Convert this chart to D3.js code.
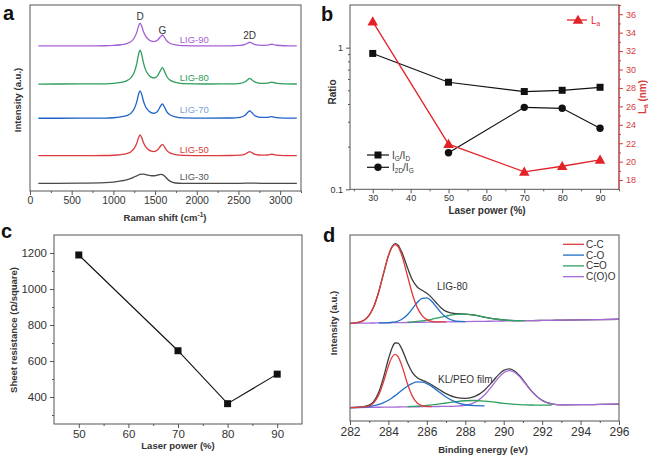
<!DOCTYPE html>
<html><head><meta charset="utf-8">
<script src="https://cdn.jsdelivr.net/npm/d3@7"></script>
<style>body{margin:0;background:#fff}svg{display:block}text{font-family:"Liberation Sans",Arial,sans-serif}</style>
</head><body><svg id="fig" width="650" height="459"></svg>
<script>
// ---------- Panel a: Raman spectra ----------
const ramanShift = [100,600,900,1000,1090,1158,1212,1252,1280,1300,1320,1340,1360,1388,1425,1458,1485,1508,1535,1562,1588,1613,1642,1678,1745,1830,2100,2400,2520,2580,2610,2635,2660,2700,2780,2850,2900,2950,3050,3200];
const lig30 = [0,0.1,0.4,0.7,1.3,1.9,2.7,3.5,4.0,4.5,4.8,5.0,5.0,4.7,4.3,4.1,4.1,4.2,4.5,4.8,4.7,3.9,2.6,1.2,0.2,0.05,0.05,0.03,0.05,0.08,0.1,0.1,0.1,0.08,0.05,0.03,0.03,0.02,0.01,0];
const lig50 = [0,0.03,0.09,0.22,0.58,1.09,2.14,4.04,6.65,9.46,11.11,9.67,7.06,4.69,3.11,2.38,2.22,2.45,3.34,4.92,6.08,4.71,2.70,1.48,0.58,0.18,0.03,0.08,0.29,0.85,1.61,2.12,1.62,0.71,0.26,0.36,0.76,0.32,0.07,0.03];
const lig70 = [0,0.04,0.12,0.29,0.75,1.41,2.78,5.30,8.80,12.57,14.78,12.81,9.28,6.05,3.90,2.91,2.69,2.99,4.17,6.24,7.77,6.00,3.43,1.86,0.74,0.23,0.05,0.15,0.54,1.61,3.07,4.02,3.08,1.33,0.43,0.48,0.91,0.39,0.10,0.04];
const lig80 = [0,0.05,0.14,0.36,0.92,1.74,3.44,6.56,10.89,15.55,18.29,15.85,11.48,7.49,4.83,3.59,3.29,3.57,4.84,7.11,8.78,6.80,3.92,2.15,0.85,0.26,0.04,0.11,0.41,1.22,2.31,3.02,2.32,1.01,0.36,0.52,1.08,0.45,0.11,0.04];
const lig90 = [0,0.03,0.09,0.24,0.62,1.18,2.33,4.41,7.28,10.37,12.18,10.60,7.72,5.10,3.36,2.55,2.34,2.52,3.33,4.79,5.86,4.55,2.64,1.46,0.58,0.18,0.03,0.07,0.27,0.79,1.51,1.97,1.51,0.66,0.26,0.41,0.91,0.37,0.08,0.03];
const ramanNames = ["LIG-30","LIG-50","LIG-70","LIG-80","LIG-90"];
const ramanOffsets = [4.1,19.0,39.1,57.5,78.0];
const ramanTicks = [0,500,1000,1500,2000,2500,3000];
const bandNames = ["D","G","2D"];
const bandPos = [1320,1588,2635];

// ---------- Panel b: ratios and La ----------
const laserPower = [30,50,70,80,90];
const ratioGD = [0.91,0.57,0.49,0.50,0.525];
const ratio2DG = [null,0.181,0.379,0.373,0.27];
const crystalLa = [35.2,21.9,18.9,19.5,20.2];
const bTicksX = [30,40,50,60,70,80,90];
const bTicksLog = [0.1,1];
const bTicksLa = [18,20,22,24,26,28,30,32,34,36];

// ---------- Panel c: sheet resistance ----------
const sheetPower = [50,70,80,90];
const sheetRes = [1189,657,363,527];
const cTicksX = [50,60,70,80,90];
const cTicksY = [400,600,800,1000,1200];

// ---------- Panel d: XPS C1s ----------
const bindingEnergy = [282,282.5,283,283.25,283.5,283.75,284,284.2,284.35,284.5,284.7,285,285.25,285.5,285.75,286,286.25,286.5,286.75,287,287.5,288,288.5,289,289.5,289.75,290,290.3,290.6,290.85,291.1,291.5,292,292.5,293,294,295,296];
const _ = null;
const ligEnv = [52.54,53.14,56.91,61.85,69.64,79.49,88.9,93.89,95.34,94.57,90.72,82.15,75.78,72.06,70.26,68.68,66.35,63.44,60.75,58.92,57.69,57.5,56.87,55.86,54.92,54.57,54.31,54.11,54.01,53.98,53.98,53.99,54.07,54.15,54.23,54.38,54.54,54.7];
const ligCC = [52.54,53.14,56.91,61.85,69.64,79.47,88.81,93.65,94.87,93.69,88.92,77.67,68.11,60.95,56.65,54.49,53.61,53.33,53.28,53.29,_,_,_,_,_,_,_,_,_,_,_,_,_,_,_,_,_,_];
const ligCO = [_,_,_,_,52.74,52.79,52.9,53.09,53.34,53.77,54.72,57.29,60.4,63.7,65.98,66.24,64.39,61.28,58.12,55.77,53.74,53.47,_,_,_,_,_,_,_,_,_,_,_,_,_,_,_,_];
const ligCdO = [_,_,_,_,_,_,_,_,_,_,_,53.13,53.29,53.51,53.81,54.21,54.69,55.25,55.85,56.44,57.31,57.47,56.87,55.86,54.92,54.57,54.31,54.11,54.01,53.98,53.98,_,_,_,_,_,_,_];
const ligCOO = [52.5,52.58,52.66,52.7,52.74,52.77,52.81,52.85,52.87,52.89,52.92,52.97,53.01,53.05,53.09,53.13,53.17,53.21,53.25,53.29,53.36,53.44,53.52,53.6,53.68,53.72,53.76,53.8,53.85,53.89,53.93,53.99,54.07,54.15,54.23,54.38,54.54,54.7];
const klEnv = [7.22,7.41,8.53,10.73,15.55,23.63,33.33,39.57,41.94,41.9,38.64,31.06,26.02,23.29,21.94,20.84,19.5,17.88,16.21,14.71,12.68,12.13,13.21,16.59,22.21,25.07,27.18,28.0,26.61,24.04,20.74,15.53,11.09,9.25,8.75,8.76,8.89,9.02];
const klCC = [7.2,7.3,8.07,9.88,14.07,21.21,29.61,34.54,35.81,34.58,29.7,19.75,13.22,9.67,8.25,7.84,7.77,_,_,_,_,_,_,_,_,_,_,_,_,_,_,_,_,_,_,_,_,_];
const klCO = [7.22,7.38,7.79,8.21,8.88,9.85,11.18,12.52,13.64,14.85,16.49,18.78,20.23,20.99,20.94,20.09,18.61,16.73,14.74,12.88,10.12,8.73,8.25,8.15,_,_,_,_,_,_,_,_,_,_,_,_,_,_];
const klCdO = [_,_,_,_,_,_,_,_,_,_,_,7.71,7.81,7.95,8.13,8.35,8.62,8.94,9.29,9.67,10.4,10.9,11.01,10.71,10.14,9.82,9.52,9.2,8.95,8.79,8.67,8.59,8.55,8.59,_,_,_,_];
const klCOO = [7.2,7.27,7.33,7.36,7.4,7.43,7.46,7.49,7.51,7.53,7.55,7.59,7.62,7.66,7.69,7.72,7.75,7.79,7.82,7.86,8.0,8.46,10.05,13.95,20.25,23.46,25.9,27.08,25.98,23.6,20.45,15.38,11.04,9.23,8.75,8.76,8.89,9.02];
const xpsComponents = ["C-C","C-O","C=O","C(O)O"];
const dTicksX = [282,284,286,288,290,292,294,296];

// ---------- drawing ----------
const svg = d3.select("#fig");
const TXT = "#333", FR = "#555";
const red = "#e32228", redAx = "#d53a3d";
const ramanColors = ["#4a4a4a","#dc3b40","#1f63c6","#2e9c5a","#a461d6"];
const ramanLabelColors = ["#555","#dc3b40","#7c9fdc","#2e9c5a","#a461d6"];
const xpsColors = ["#e03a3a","#1f6fc8","#2fa05f","#a56ad6"];

function frame(x0,y0,x1,y1){
  svg.append("rect").attr("x",x0).attr("y",y0).attr("width",x1-x0).attr("height",y1-y0)
    .attr("fill","none").attr("stroke",FR).attr("stroke-width",1);
}
function styleAxis(g,fs,col){
  g.select(".domain").remove();
  g.selectAll("line").attr("stroke",col||FR);
  g.selectAll("text").attr("fill",col||TXT).style("font-size",fs+"px").style("font-family","Liberation Sans, Arial, sans-serif");
}
function xAxis(scale,y,major,minor,fs,fmt,pad){
  const g = svg.append("g").attr("transform",`translate(0,${y})`)
    .call(d3.axisBottom(scale).tickValues(major).tickSize(4).tickPadding(pad==null?3:pad).tickFormat(fmt||d3.format("d")));
  styleAxis(g,fs);
  if(minor){ const m = svg.append("g").attr("transform",`translate(0,${y})`)
    .call(d3.axisBottom(scale).tickValues(minor).tickSize(2).tickFormat(""));
    styleAxis(m,fs); }
}
function yAxisL(scale,x,major,minor,fs,fmt){
  const g = svg.append("g").attr("transform",`translate(${x},0)`)
    .call(d3.axisLeft(scale).tickValues(major).tickSize(4).tickPadding(3).tickFormat(fmt||d3.format("d")));
  styleAxis(g,fs);
  if(minor){ const m = svg.append("g").attr("transform",`translate(${x},0)`)
    .call(d3.axisLeft(scale).tickValues(minor).tickSize(2).tickFormat(""));
    styleAxis(m,fs); }
}
function title(x,y,txt,fs,rot,col,weight){
  const t = svg.append("text").attr("x",x).attr("y",y).attr("text-anchor","middle")
    .style("font-size",fs+"px").style("font-weight",weight||"bold").attr("fill",col||TXT);
  if(txt) t.text(txt);
  if(rot) t.attr("transform",`rotate(-90,${x},${y})`);
  return t;
}
function letter(x,y,l){
  svg.append("text").attr("x",x).attr("y",y).text(l).style("font-size","20px").style("font-weight","bold").attr("fill","#111");
}

// ===== Panel a =====
{
  const x = d3.scaleLinear().domain([0,3250]).range([30,301]);
  const y = d3.scaleLinear().domain([0,100]).range([191,5]);
  const series = [lig30,lig50,lig70,lig80,lig90];
  const line = d3.line().curve(d3.curveMonotoneX);
  series.forEach((s,i)=>{
    const pts = ramanShift.map((v,j)=>[x(v), y(s[j]+ramanOffsets[i])]);
    svg.append("path").attr("d",line(pts)).attr("fill","none").attr("stroke",ramanColors[i]).attr("stroke-width",1.3);
  });
  const labY = [180,153,113,81,43];
  ramanNames.forEach((n,i)=>{
    svg.append("text").attr("x",x(1970)).attr("y",labY[i]).attr("text-anchor","middle").text(n)
      .style("font-size","9.5px").attr("fill",ramanLabelColors[i]);
  });
  const bandY = [19.5,34,39];
  bandNames.forEach((n,i)=>{
    svg.append("text").attr("x",x(bandPos[i])).attr("y",bandY[i]).attr("text-anchor","middle").text(n)
      .style("font-size","10px").attr("fill",TXT);
  });
  frame(30,5,301,191);
  xAxis(x,191,ramanTicks,[250,750,1250,1750,2250,2750,3250],10.5,null,2);
  const t = title(165,221,"",9.5);
  t.append("tspan").text("Raman shift (cm");
  t.append("tspan").text("-1").attr("dy",-4).style("font-size","6.5px");
  t.append("tspan").text(")").attr("dy",4);
  title(21,100,"Intensity (a.u.)",9.5,true);
  letter(3,20,"a");
}

// ===== Panel b =====
{
  const x = d3.scaleLinear().domain([24,95]).range([350,619]);
  const yL = d3.scaleLog().domain([0.1,2]).range([189.3,5]);
  const yR = d3.scaleLinear().domain([17,37]).range([189.3,5]);
  frame(350,5,619,189.3);
  const line = d3.line().defined(d=>d[1]!=null).x(d=>x(d[0])).y(d=>yL(d[1]));
  const gd = laserPower.map((p,i)=>[p,ratioGD[i]]);
  const g2 = laserPower.map((p,i)=>[p,ratio2DG[i]]);
  svg.append("path").attr("d",line(gd)).attr("fill","none").attr("stroke","#111").attr("stroke-width",1.2);
  svg.append("path").attr("d",line(g2)).attr("fill","none").attr("stroke","#111").attr("stroke-width",1.2);
  const lineR = d3.line().x((d,i)=>x(laserPower[i])).y(d=>yR(d));
  svg.append("path").attr("d",lineR(crystalLa)).attr("fill","none").attr("stroke",red).attr("stroke-width",1.3);
  gd.forEach(d=>svg.append("rect").attr("x",x(d[0])-3.5).attr("y",yL(d[1])-3.5).attr("width",7).attr("height",7).attr("fill","#111"));
  g2.filter(d=>d[1]!=null).forEach(d=>svg.append("circle").attr("cx",x(d[0])).attr("cy",yL(d[1])).attr("r",3.7).attr("fill","#111"));
  const tri = d3.symbol().type(d3.symbolTriangle).size(48);
  crystalLa.forEach((v,i)=>svg.append("path").attr("d",tri()).attr("transform",`translate(${x(laserPower[i])},${yR(v)+0.8})`).attr("fill",red));
  xAxis(x,189.3,bTicksX,[25,35,45,55,65,75,85,95],9,null,1.5);
  yAxisL(yL,350,bTicksLog,[0.2,0.3,0.4,0.5,0.6,0.7,0.8,0.9],9,d=>d===1?"1":"0.1");
  // right axis
  svg.append("line").attr("x1",619).attr("x2",619).attr("y1",5).attr("y2",189.3).attr("stroke",redAx).attr("stroke-width",1);
  const gr = svg.append("g").attr("transform","translate(619,0)")
    .call(d3.axisRight(yR).tickValues(bTicksLa).tickSize(4).tickPadding(3).tickFormat(d3.format("d")));
  styleAxis(gr,9,redAx);
  const grm = svg.append("g").attr("transform","translate(619,0)")
    .call(d3.axisRight(yR).tickValues([19,21,23,25,27,29,31,33,35,37]).tickSize(2).tickFormat(""));
  styleAxis(grm,9,redAx);
  // legends
  const lg = [[155,"sq","G","D"],[167.3,"ci","2D","G"]];
  lg.forEach(l=>{
    svg.append("line").attr("x1",367).attr("x2",389).attr("y1",l[0]).attr("y2",l[0]).attr("stroke","#111").attr("stroke-width",1.2);
    if(l[1]==="sq") svg.append("rect").attr("x",374.5).attr("y",l[0]-3.5).attr("width",7).attr("height",7).attr("fill","#111");
    else svg.append("circle").attr("cx",378).attr("cy",l[0]).attr("r",3.7).attr("fill","#111");
    const t = svg.append("text").attr("x",392).attr("y",l[0]+3.5).style("font-size","10px").attr("fill",TXT);
    t.append("tspan").text("I");
    t.append("tspan").text(l[2]).attr("dy",2).style("font-size","6.5px");
    t.append("tspan").text("/I").attr("dy",-2);
    t.append("tspan").text(l[3]).attr("dy",2).style("font-size","6.5px");
  });
  svg.append("line").attr("x1",567).attr("x2",587).attr("y1",20).attr("y2",20).attr("stroke",red).attr("stroke-width",1.3);
  svg.append("path").attr("d",tri()).attr("transform","translate(578,20.8)").attr("fill",red);
  const la = svg.append("text").attr("x",591).attr("y",23.5).style("font-size","10px").attr("fill",red);
  la.append("tspan").text("L"); la.append("tspan").text("a").attr("dy",2).style("font-size","6.5px");
  title(487,214,"Laser power (%)",10);
  title(336,92,"Ratio",10,true);
  const tr = svg.append("text").attr("transform","translate(646,97) rotate(-90)").attr("text-anchor","middle")
    .style("font-size","10px").style("font-weight","bold").attr("fill",redAx);
  tr.append("tspan").text("L"); tr.append("tspan").text("a").attr("dy",2).style("font-size","6.5px");
  tr.append("tspan").text(" (nm)").attr("dy",-2);
  letter(321,20.5,"b");
}

// ===== Panel c =====
{
  const x = d3.scaleLinear().domain([45,95]).range([54,302]);
  const y = d3.scaleLinear().domain([250,1300]).range([424,235]);
  frame(54,235,302,424);
  const line = d3.line().x((d,i)=>x(sheetPower[i])).y(d=>y(d));
  svg.append("path").attr("d",line(sheetRes)).attr("fill","none").attr("stroke","#111").attr("stroke-width",1.1);
  sheetRes.forEach((v,i)=>svg.append("rect").attr("x",x(sheetPower[i])-3.5).attr("y",y(v)-3.5).attr("width",7).attr("height",7).attr("fill","#111"));
  xAxis(x,424,cTicksX,[55,65,75,85],11.5,null,1.5);
  yAxisL(y,54,cTicksY,[300,500,700,900,1100],11.5);
  title(178,449,"Laser power (%)",9.5);
  title(17,330,"Sheet resistance (Ω/square)",9.5,true);
  letter(1,238,"c");
}

// ===== Panel d =====
{
  const x = d3.scaleLinear().domain([282,296]).range([350,619]);
  const y = d3.scaleLinear().domain([0,100]).range([421,235]);
  const line = d3.line().defined(d=>d[1]!=null).curve(d3.curveMonotoneX).x(d=>x(d[0])).y(d=>y(d[1]));
  const mk = s => bindingEnergy.map((e,i)=>[e,s[i]]);
  const groups = [[ligEnv,ligCC,ligCO,ligCdO,ligCOO],[klEnv,klCC,klCO,klCdO,klCOO]];
  groups.forEach(g=>{
    svg.append("path").attr("d",line(mk(g[0]))).attr("fill","none").attr("stroke","#3c3c3c").attr("stroke-width",1.3);
  });
  groups.forEach(g=>{
    [3,2,1,0].forEach(k=>{
      svg.append("path").attr("d",line(mk(g[k+1]))).attr("fill","none").attr("stroke",xpsColors[k]).attr("stroke-width",1.3);
    });
  });
  frame(350,235,619,421);
  xAxis(x,421,dTicksX,[283,285,287,289,291,293,295],12,null,2);
  xpsComponents.forEach((c,i)=>{
    const yy = 244.3 + i*10.8;
    svg.append("line").attr("x1",563).attr("x2",584).attr("y1",yy).attr("y2",yy).attr("stroke",xpsColors[i]).attr("stroke-width",1.3);
    svg.append("text").attr("x",586).attr("y",yy+3.5).text(c).style("font-size","10px").attr("fill",TXT);
  });
  svg.append("text").attr("x",437).attr("y",290).text("LIG-80").style("font-size","10px").attr("fill",TXT);
  svg.append("text").attr("x",438).attr("y",382.5).text("KL/PEO film").style("font-size","10px").attr("fill",TXT);
  title(483,453,"Binding energy (eV)",9.5);
  title(337,323,"Intensity (a.u.)",9.5,true);
  letter(323,242,"d");
}
</script></body></html>
